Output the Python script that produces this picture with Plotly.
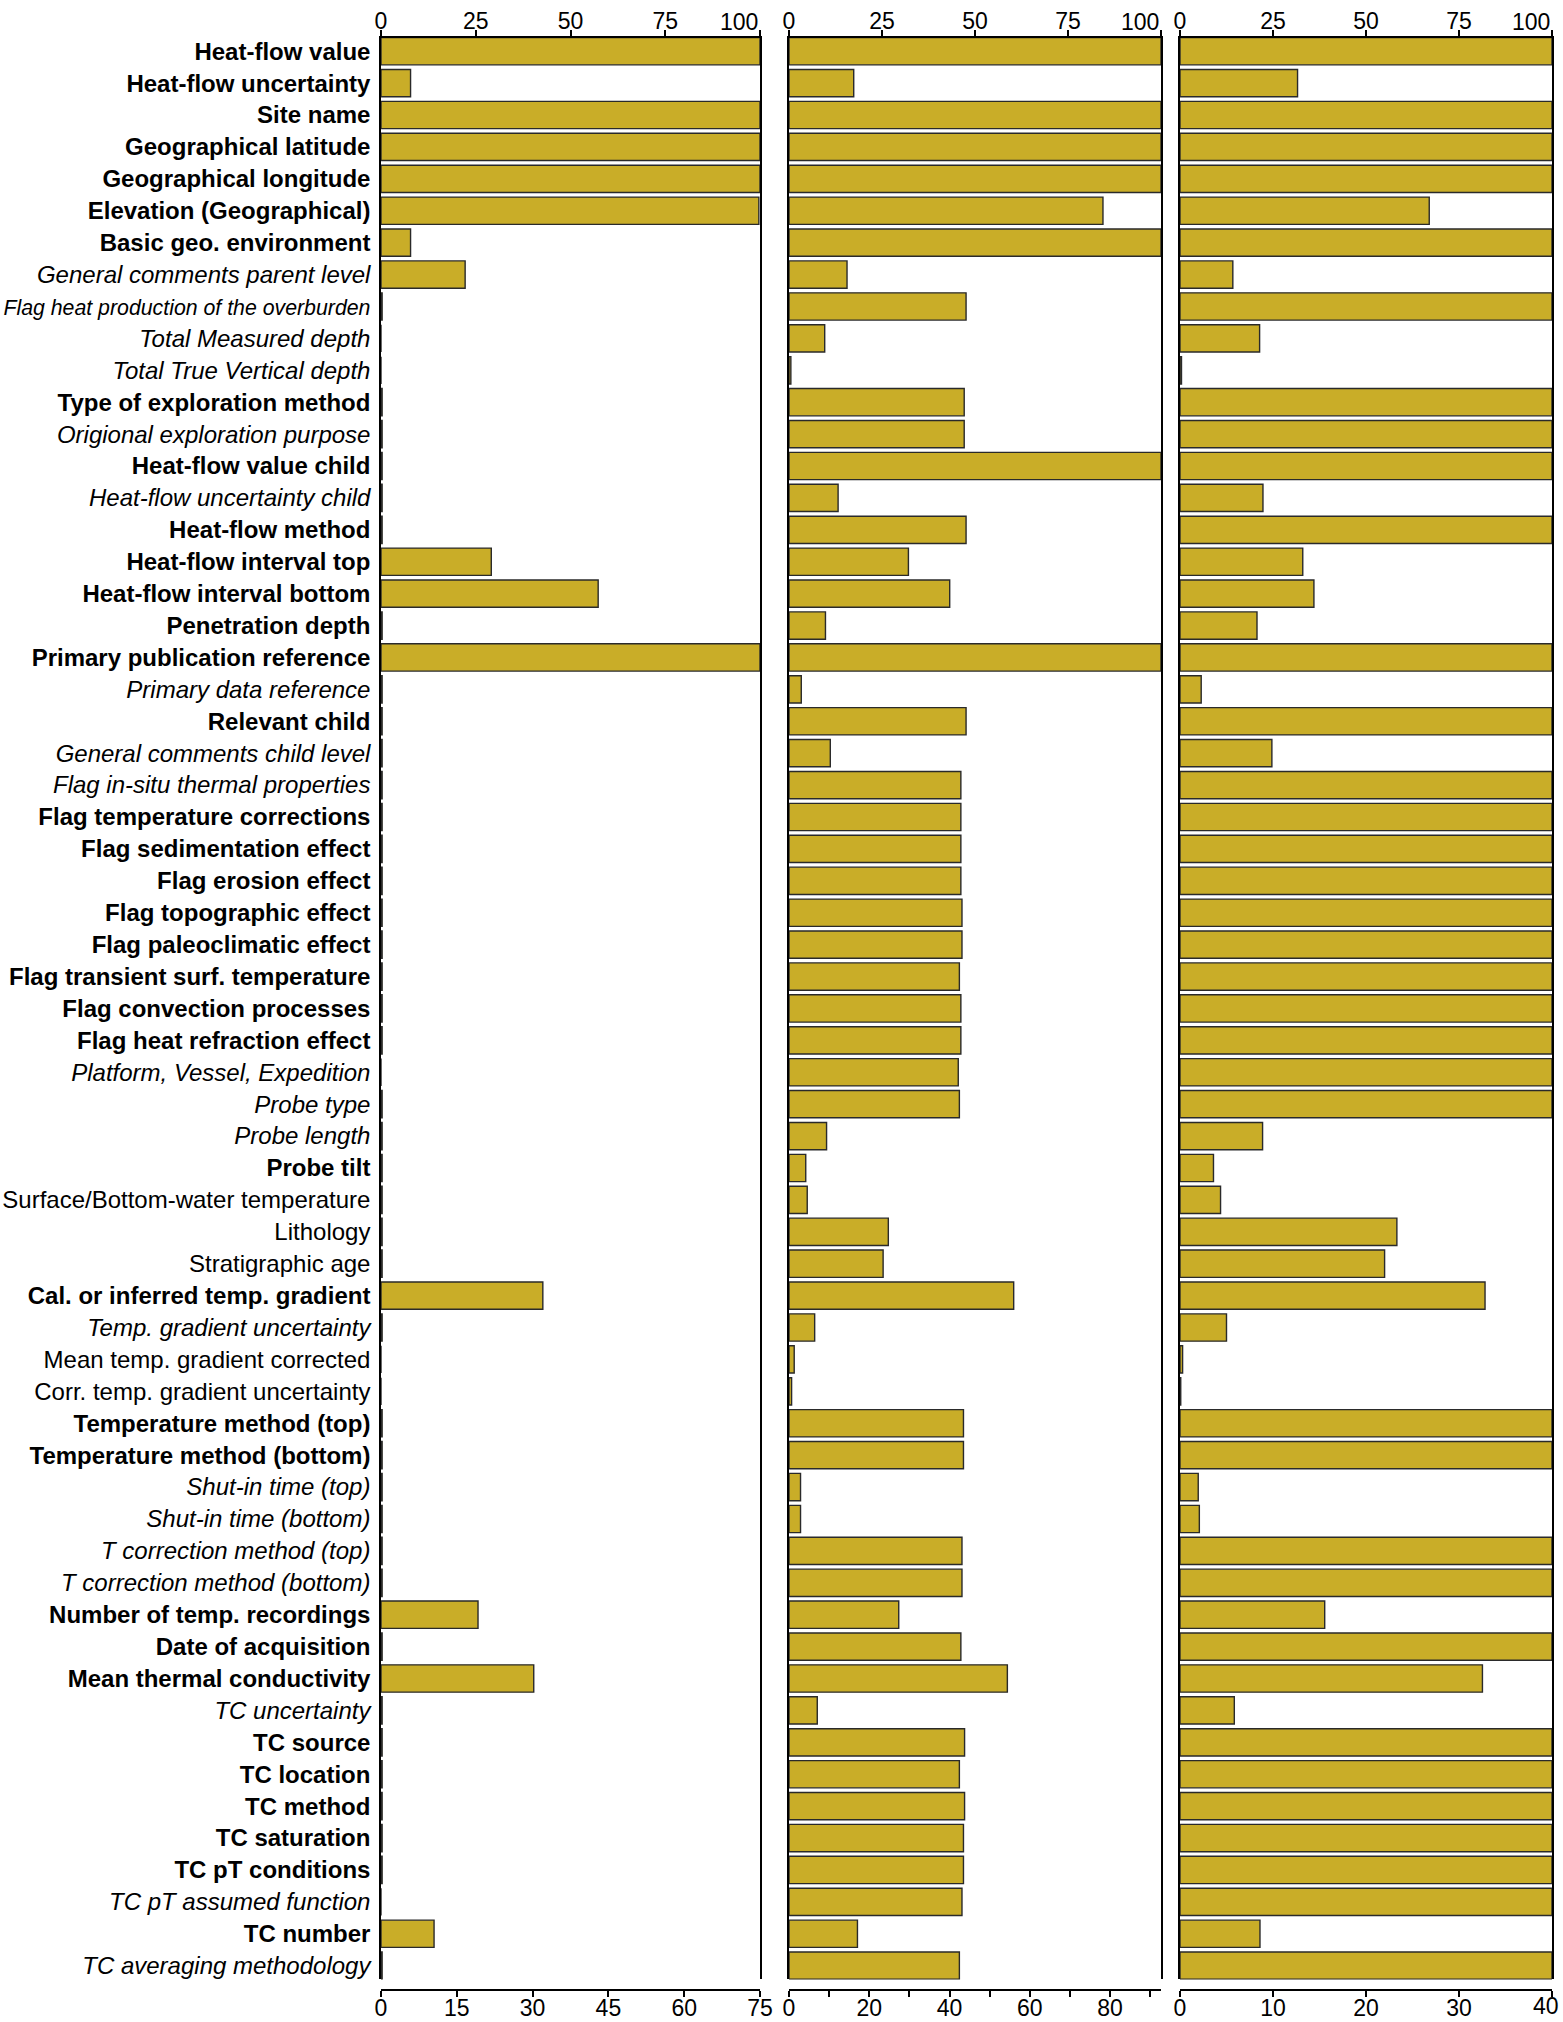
import plotly.graph_objects as go

# ---------------- data ----------------
categories = [
    "Heat-flow value", "Heat-flow uncertainty", "Site name", "Geographical latitude",
    "Geographical longitude", "Elevation (Geographical)", "Basic geo. environment",
    "General comments parent level", "Flag heat production of the overburden",
    "Total Measured depth", "Total True Vertical depth", "Type of exploration method",
    "Origional exploration purpose", "Heat-flow value child", "Heat-flow uncertainty child",
    "Heat-flow method", "Heat-flow interval top", "Heat-flow interval bottom",
    "Penetration depth", "Primary publication reference", "Primary data reference",
    "Relevant child", "General comments child level", "Flag in-situ thermal properties",
    "Flag temperature corrections", "Flag sedimentation effect", "Flag erosion effect",
    "Flag topographic effect", "Flag paleoclimatic effect", "Flag transient surf. temperature",
    "Flag convection processes", "Flag heat refraction effect", "Platform, Vessel, Expedition",
    "Probe type", "Probe length", "Probe tilt", "Surface/Bottom-water temperature",
    "Lithology", "Stratigraphic age", "Cal. or inferred temp. gradient",
    "Temp. gradient uncertainty", "Mean temp. gradient corrected",
    "Corr. temp. gradient uncertainty", "Temperature method (top)",
    "Temperature method (bottom)", "Shut-in time (top)", "Shut-in time (bottom)",
    "T correction method (top)", "T correction method (bottom)",
    "Number of temp. recordings", "Date of acquisition", "Mean thermal conductivity",
    "TC uncertainty", "TC source", "TC location", "TC method", "TC saturation",
    "TC pT conditions", "TC pT assumed function", "TC number", "TC averaging methodology",
]

# completeness in percent, one list per panel
panel1_pct = [
    100, 7.8, 100, 100, 100, 99.7, 7.8, 22.2, 0.3, 0, 0, 0.3, 0.3, 0.3, 0.3, 0.3,
    29.1, 57.3, 0.3, 100, 0.3, 0.3, 0.3, 0.3, 0.3, 0.3, 0.3, 0.3, 0.3, 0.3, 0.3, 0.3,
    0, 0.3, 0.3, 0.3, 0.3, 0.3, 0.3, 42.7, 0.3, 0, 0, 0.3, 0.3, 0.3, 0.3, 0.3, 0.3,
    25.6, 0.3, 40.3, 0.3, 0.3, 0.3, 0.3, 0.3, 0.3, 0, 14.0, 0.3,
]
panel2_pct = [
    100, 17.4, 100, 100, 100, 84.4, 100, 15.6, 47.6, 9.6, 0.5, 47.1, 47.1, 100, 13.2,
    47.6, 32.1, 43.2, 9.8, 100, 3.3, 47.6, 11.1, 46.2, 46.2, 46.2, 46.2, 46.5, 46.5,
    45.8, 46.2, 46.2, 45.5, 45.8, 10.1, 4.5, 4.9, 26.7, 25.3, 60.4, 6.9, 1.4, 0.7,
    46.9, 46.9, 3.1, 3.1, 46.5, 46.5, 29.5, 46.2, 58.7, 7.6, 47.2, 45.8, 47.2, 46.9,
    46.9, 46.5, 18.4, 45.8,
]
panel3_pct = [
    100, 31.6, 100, 100, 100, 67.0, 100, 14.2, 100, 21.4, 0.4, 100, 100, 100, 22.3,
    100, 33.0, 36.0, 20.7, 100, 5.7, 100, 24.7, 100, 100, 100, 100, 100, 100, 100,
    100, 100, 100, 100, 22.2, 9.0, 10.9, 58.3, 55.0, 82.0, 12.5, 0.7, 0.2, 100, 100,
    4.9, 5.2, 100, 100, 38.9, 100, 81.3, 14.6, 100, 100, 100, 100, 100, 100, 21.5, 100,
]

# label emphasis: b = bold, i = italic, n = normal
label_emphasis = [
    "b", "b", "b", "b", "b", "b", "b", "i", "i", "i", "i", "b", "i", "b", "i", "b",
    "b", "b", "b", "b", "i", "b", "i", "i", "b", "b", "b", "b", "b", "b", "b", "b",
    "i", "i", "i", "b", "n", "n", "n", "b", "i", "n", "n", "b", "b", "i", "i", "i",
    "i", "b", "b", "b", "i", "b", "b", "b", "b", "b", "i", "b", "i",
]

top_ticks = [0, 25, 50, 75, 100]
bottom_max = [75, 92.7, 40]          # counts corresponding to 100 %
bottom_ticks_1 = [0, 15, 30, 45, 60, 75]
bottom_ticks_2 = [0, 10, 20, 30, 40, 50, 60, 70, 80, 90]
bottom_text_2 = ["0", "", "20", "", "40", "", "60", "", "80", ""]
bottom_ticks_3 = [0, 10, 20, 30, 40]

# ---------------- styling ----------------
FONT = "Liberation Sans, Arial, Helvetica, sans-serif"
BAR_COLOR = "#C9AD28"
EDGE = "#2a2a2a"
LABEL_SIZE = 24
TICK_SIZE = 23

W, H = 1563, 2022
ML, MR, MT, MB = 381, 11, 38, 32
plot_w = W - ML - MR
plot_h = H - MT - MB


def px_to_dom(a, b):
    return [(a - ML) / plot_w, (b - ML) / plot_w]


domains = [px_to_dom(381, 760), px_to_dom(789, 1161), px_to_dom(1180, 1552)]
ydom_bottom = (H - MB - 1979.4) / plot_h


def fmt(lbl, emph):
    if lbl.startswith("Flag heat production"):
        return "<i><span style='font-size:21.3px'>%s</span></i>" % lbl
    if emph == "b":
        return "<b>%s</b>" % lbl
    if emph == "i":
        return "<i>%s</i>" % lbl
    return lbl


ticktext = [fmt(c, e) for c, e in zip(categories, label_emphasis)]

fig = go.Figure()
for k, vals in enumerate([panel1_pct, panel2_pct, panel3_pct]):
    sfx = "" if k == 0 else str(k + 1)
    fig.add_trace(go.Bar(
        x=vals, y=categories, orientation="h",
        xaxis="x" + sfx, yaxis="y" + sfx,
        marker=dict(color=BAR_COLOR, line=dict(color=EDGE, width=1.4)),
        showlegend=False, hoverinfo="x+y",
    ))
    # invisible helper so the secondary (count) axis below each panel is drawn
    fig.add_trace(go.Scatter(
        x=[0, bottom_max[k]], y=[categories[0], categories[0]],
        xaxis="x" + str(k + 4), yaxis="y" + sfx,
        mode="markers", marker=dict(opacity=0, size=1),
        showlegend=False, hoverinfo="skip",
    ))

yrange = [60.43, -0.414]
layout = dict(
    width=W, height=H,
    margin=dict(l=ML, r=MR, t=MT, b=MB, autoexpand=False),
    paper_bgcolor="white", plot_bgcolor="white",
    bargap=0.145,
    font=dict(family=FONT, size=TICK_SIZE, color="black"),
)

bottom_specs = [
    (bottom_ticks_1, [str(v) for v in bottom_ticks_1]),
    (bottom_ticks_2, bottom_text_2),
    (bottom_ticks_3, [str(v) for v in bottom_ticks_3[:-1]] + [""]),
]

annotations = []
for k in range(3):
    sfx = "" if k == 0 else str(k + 1)
    xname = "xaxis" + sfx
    yname = "yaxis" + sfx
    layout[xname] = dict(
        domain=domains[k], range=[0, 100], side="top", anchor="y" + sfx,
        tickvals=top_ticks, ticktext=[str(v) for v in top_ticks[:-1]] + [""],
        ticks="outside", ticklen=6, tickwidth=1.5, tickcolor="black",
        ticklabelstandoff=-8,
        showline=True, linecolor="black", linewidth=2, mirror=False,
        showgrid=False, zeroline=False, fixedrange=True,
        tickfont=dict(size=TICK_SIZE, family=FONT),
    )
    layout[yname] = dict(
        domain=[ydom_bottom, 1], anchor="x" + sfx,
        type="category", categoryorder="array", categoryarray=categories,
        range=yrange, showgrid=False, zeroline=False,
        showline=True, mirror=True, linecolor="black", linewidth=1.5,
        ticks="", fixedrange=True,
        showticklabels=(k == 0),
        tickvals=categories, ticktext=ticktext,
        tickfont=dict(size=LABEL_SIZE, family=FONT, color="black"),
        ticklabelstandoff=4,
    )
    bname = "xaxis" + str(k + 4)
    tv, tt = bottom_specs[k]
    layout[bname] = dict(
        overlaying="x" + sfx, side="bottom", anchor="free", position=0,
        range=[0, bottom_max[k]], tickvals=tv, ticktext=tt,
        ticks="outside", ticklen=6, tickwidth=1.5, tickcolor="black",
        ticklabelstandoff=-9, ticklabeloverflow="allow",
        showline=True, linecolor="black", linewidth=2,
        showgrid=False, zeroline=False, fixedrange=True,
        tickfont=dict(size=TICK_SIZE, family=FONT),
    )
    # right-aligned label for the last top tick (100)
    annotations.append(dict(
        x=100, xref="x" + sfx, y=1, yref="paper", text="100",
        xanchor="right", yanchor="bottom", yshift=1, showarrow=False,
        font=dict(size=TICK_SIZE, family=FONT, color="black"),
    ))

# last bottom label of panel 3, kept inside the page edge
annotations.append(dict(
    x=bottom_ticks_3[-1], xref="x6", y=0, yref="paper", text=str(bottom_ticks_3[-1]),
    xanchor="right", yanchor="top", xshift=9, yshift=-1, showarrow=False,
    font=dict(size=TICK_SIZE, family=FONT, color="black"),
))

layout["annotations"] = annotations
fig.update_layout(**layout)

fig.write_html("out.html", config={"displayModeBar": False},
               post_script="document.body.style.margin='0';")
